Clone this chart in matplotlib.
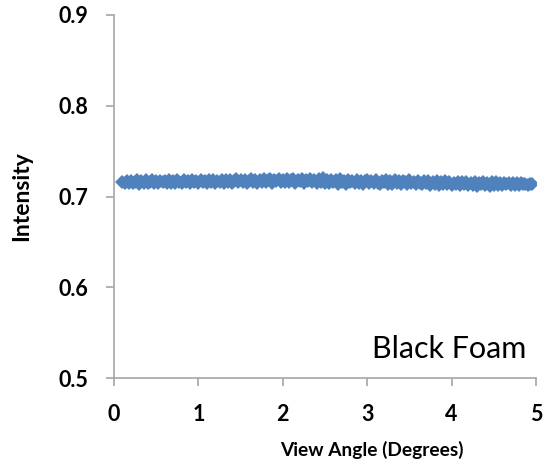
import matplotlib
matplotlib.use("Agg")
import matplotlib.pyplot as plt

view_angle = [
    0.100, 0.125, 0.150, 0.175, 0.200, 0.225, 0.250, 0.275, 0.300, 0.325,
    0.350, 0.375, 0.400, 0.425, 0.450, 0.475, 0.500, 0.525, 0.550, 0.575,
    0.600, 0.625, 0.650, 0.675, 0.700, 0.725, 0.750, 0.775, 0.800, 0.825,
    0.850, 0.875, 0.900, 0.925, 0.950, 0.975, 1.000, 1.025, 1.050, 1.075,
    1.100, 1.125, 1.150, 1.175, 1.200, 1.225, 1.250, 1.275, 1.300, 1.325,
    1.350, 1.375, 1.400, 1.425, 1.450, 1.475, 1.500, 1.525, 1.550, 1.575,
    1.600, 1.625, 1.650, 1.675, 1.700, 1.725, 1.750, 1.775, 1.800, 1.825,
    1.850, 1.875, 1.900, 1.925, 1.950, 1.975, 2.000, 2.025, 2.050, 2.075,
    2.100, 2.125, 2.150, 2.175, 2.200, 2.225, 2.250, 2.275, 2.300, 2.325,
    2.350, 2.375, 2.400, 2.425, 2.450, 2.475, 2.500, 2.525, 2.550, 2.575,
    2.600, 2.625, 2.650, 2.675, 2.700, 2.725, 2.750, 2.775, 2.800, 2.825,
    2.850, 2.875, 2.900, 2.925, 2.950, 2.975, 3.000, 3.025, 3.050, 3.075,
    3.100, 3.125, 3.150, 3.175, 3.200, 3.225, 3.250, 3.275, 3.300, 3.325,
    3.350, 3.375, 3.400, 3.425, 3.450, 3.475, 3.500, 3.525, 3.550, 3.575,
    3.600, 3.625, 3.650, 3.675, 3.700, 3.725, 3.750, 3.775, 3.800, 3.825,
    3.850, 3.875, 3.900, 3.925, 3.950, 3.975, 4.000, 4.025, 4.050, 4.075,
    4.100, 4.125, 4.150, 4.175, 4.200, 4.225, 4.250, 4.275, 4.300, 4.325,
    4.350, 4.375, 4.400, 4.425, 4.450, 4.475, 4.500, 4.525, 4.550, 4.575,
    4.600, 4.625, 4.650, 4.675, 4.700, 4.725, 4.750, 4.775, 4.800, 4.825,
    4.850, 4.875, 4.900, 4.925, 4.950]
intensity = [
    0.7158, 0.7146, 0.7167, 0.7152, 0.7174, 0.7149, 0.7163, 0.7177, 0.7143, 0.7169,
    0.7151, 0.7178, 0.7147, 0.7165, 0.7180, 0.7150, 0.7171, 0.7144, 0.7176, 0.7157,
    0.7173, 0.7148, 0.7182, 0.7154, 0.7168, 0.7145, 0.7179, 0.7161, 0.7150, 0.7184,
    0.7156, 0.7175, 0.7147, 0.7181, 0.7160, 0.7170, 0.7149, 0.7183, 0.7155, 0.7176,
    0.7150, 0.7180, 0.7162, 0.7186, 0.7148, 0.7174, 0.7156, 0.7182, 0.7152, 0.7178,
    0.7160, 0.7187, 0.7151, 0.7173, 0.7189, 0.7155, 0.7179, 0.7162, 0.7185, 0.7150,
    0.7176, 0.7190, 0.7158, 0.7181, 0.7153, 0.7186, 0.7165, 0.7192, 0.7156, 0.7177,
    0.7188, 0.7152, 0.7180, 0.7167, 0.7193, 0.7155, 0.7183, 0.7161, 0.7189, 0.7158,
    0.7178, 0.7194, 0.7153, 0.7185, 0.7166, 0.7191, 0.7150, 0.7181, 0.7170, 0.7196,
    0.7155, 0.7184, 0.7147, 0.7190, 0.7163, 0.7199, 0.7152, 0.7180, 0.7145, 0.7187,
    0.7160, 0.7178, 0.7143, 0.7189, 0.7158, 0.7174, 0.7141, 0.7183, 0.7156, 0.7170,
    0.7147, 0.7182, 0.7152, 0.7176, 0.7140, 0.7168, 0.7185, 0.7149, 0.7172, 0.7144,
    0.7180, 0.7154, 0.7139, 0.7171, 0.7162, 0.7183, 0.7143, 0.7166, 0.7137, 0.7177,
    0.7150, 0.7169, 0.7135, 0.7174, 0.7158, 0.7142, 0.7179, 0.7147, 0.7165, 0.7134,
    0.7171, 0.7153, 0.7138, 0.7168, 0.7145, 0.7174, 0.7131, 0.7160, 0.7140, 0.7166,
    0.7129, 0.7157, 0.7143, 0.7170, 0.7133, 0.7162, 0.7127, 0.7151, 0.7139, 0.7165,
    0.7125, 0.7156, 0.7136, 0.7163, 0.7122, 0.7148, 0.7131, 0.7158, 0.7120, 0.7152,
    0.7134, 0.7160, 0.7126, 0.7147, 0.7121, 0.7155, 0.7130, 0.7162, 0.7124, 0.7150,
    0.7128, 0.7153, 0.7135, 0.7148, 0.7125, 0.7150, 0.7132, 0.7145, 0.7129, 0.7147,
    0.7136, 0.7143, 0.7131, 0.7141, 0.7140]

x_ticks = [0, 1, 2, 3, 4, 5]
y_ticks = [0.5, 0.6, 0.7, 0.8, 0.9]
y_tick_labels = ["0.5", "0.6", "0.7", "0.8", "0.9"]

plt.rcParams['font.family'] = ['Lato', 'DejaVu Sans']

fig = plt.figure(figsize=(5.44, 4.61), dpi=100)
ax = fig.add_axes([0.2096, 0.18, 0.7756, 0.7875])

ax.plot(view_angle, intensity, linestyle='none', marker='D', markersize=7,
        color='#4F81BD', markeredgewidth=0)

ax.set_xlim(0, 5)
ax.set_ylim(0.5, 0.9)
ax.set_xticks(x_ticks)
ax.set_yticks(y_ticks)
ax.set_yticklabels(y_tick_labels)

spine_color = '#A6A6A6'
for s in ['top', 'right']:
    ax.spines[s].set_visible(False)
for s in ['left', 'bottom']:
    ax.spines[s].set_color(spine_color)
    ax.spines[s].set_linewidth(1.2)

ax.tick_params(axis='both', colors=spine_color, length=6, width=1.2,
               labelcolor='black', labelsize=15.5)
ax.tick_params(axis='x', pad=12.5)
ax.tick_params(axis='y', pad=12.5)
for lbl in ax.get_xticklabels() + ax.get_yticklabels():
    lbl.set_fontweight('bold')

ax.set_xlabel('View Angle (Degrees)', fontsize=13.8, fontweight='bold', va='center')
ax.xaxis.set_label_coords(0.611, -0.197)
ax.set_ylabel('Intensity', fontsize=16.5, fontweight='bold', va='center')
ax.yaxis.set_label_coords(-0.218, 0.5)

ax.text(4.89, 0.522, 'Black Foam', fontsize=22, ha='right', va='baseline',
        color='black')

fig.savefig('out.png', dpi=100)
